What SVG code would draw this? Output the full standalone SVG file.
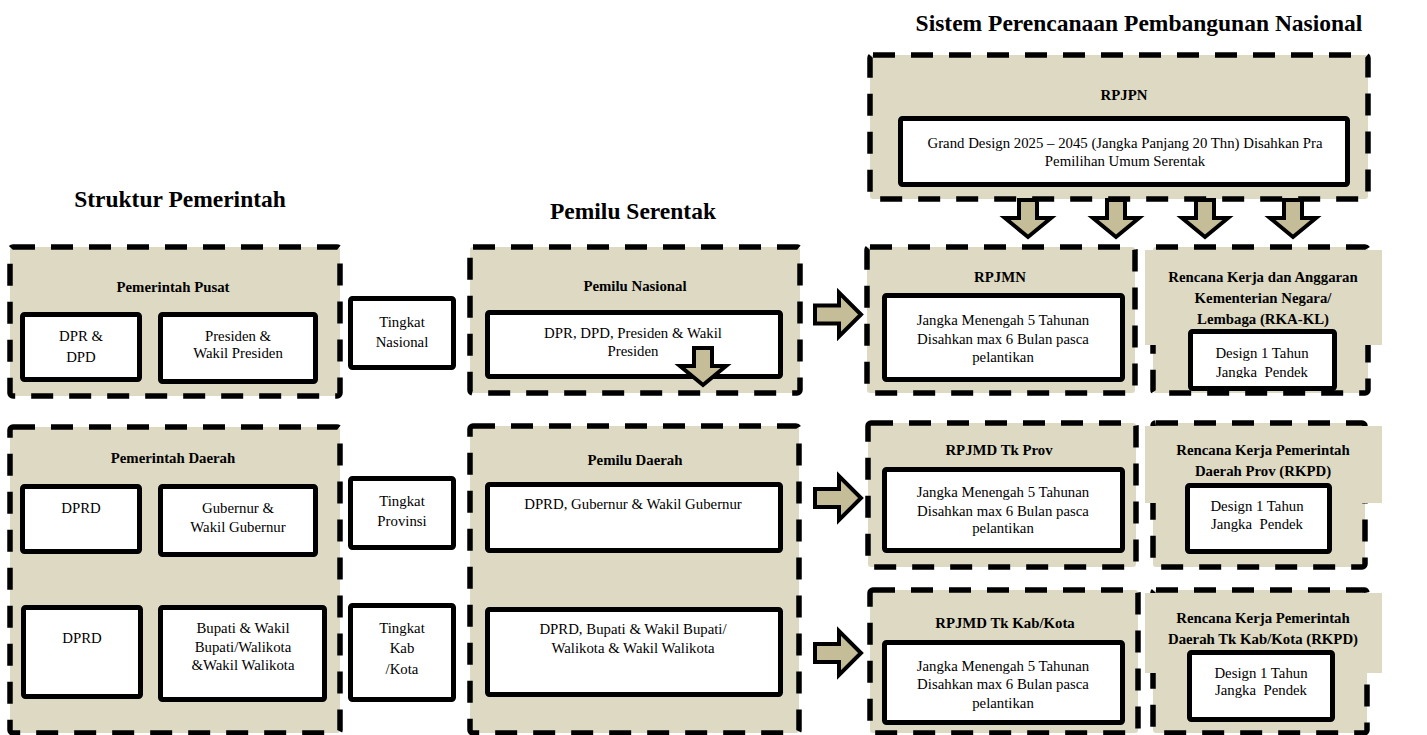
<svg xmlns="http://www.w3.org/2000/svg" width="1427" height="735" viewBox="0 0 1427 735">
<style>
.dash{fill:#DDD9C3;stroke:#000;stroke-width:5.5;stroke-dasharray:22 16}
.ov{fill:#DDD9C3;stroke:none}
.box{fill:#fff;stroke:#000;stroke-width:5}
.t{font-family:"Liberation Serif","Times New Roman",serif;font-size:14.8px;text-anchor:middle;fill:#000}
.b{font-weight:bold}
.title{font-family:"Liberation Serif","Times New Roman",serif;font-size:23.5px;font-weight:bold;text-anchor:middle;fill:#000}
.arr{fill:#C4BD97;stroke:#000;stroke-width:4;stroke-linejoin:miter}
.pre{white-space:pre}
</style>
<defs>
<path id="ra" d="M0,-9 H24 V-22 L46,0 L24,22 V9 H0 Z"/>
<path id="da" d="M-9,0 V18 H-23 L0,37 L23,18 H9 V0 Z"/>
<clipPath id="clipRKA"><rect x="1140" y="320" width="240" height="58"/></clipPath>
</defs>

<text class="title" x="1139" y="31">Sistem Perencanaan Pembangunan Nasional</text>
<text class="title" x="180" y="207">Struktur Pemerintah</text>
<text class="title" x="633" y="219">Pemilu Serentak</text>

<g id="pemerintah-pusat">
<rect class="dash" x="10" y="247" width="330" height="149" rx="3"/>
<text class="t b" x="173" y="292">Pemerintah Pusat</text>
<rect class="box" x="22.5" y="314.5" width="117" height="65" rx="2"/>
<text class="t" x="81" y="341">DPR &amp;</text>
<text class="t" x="81" y="362">DPD</text>
<rect class="box" x="160.5" y="314.5" width="155" height="67" rx="2"/>
<text class="t" x="238" y="341">Presiden &amp;</text>
<text class="t" x="238" y="358">Wakil Presiden</text>
</g>

<g id="tingkat-nasional">
<rect class="box" x="350.5" y="298.5" width="103" height="69" rx="2"/>
<text class="t" x="402" y="327">Tingkat</text>
<text class="t" x="402" y="347">Nasional</text>
</g>

<g id="pemilu-nasional">
<rect class="dash" x="470" y="247" width="330" height="146" rx="3"/>
<text class="t b" x="635" y="291">Pemilu Nasional</text>
<rect class="box" x="487.5" y="312.5" width="293" height="64" rx="2"/>
<text class="t" x="633" y="338">DPR, DPD, Presiden &amp; Wakil</text>
<text class="t" x="633" y="356">Presiden</text>
</g>

<g id="rpjpn">
<rect class="dash" x="870" y="55" width="498" height="144" rx="3"/>
<text class="t b" x="1124" y="100">RPJPN</text>
<rect class="box" x="900.5" y="118.5" width="447" height="66" rx="2"/>
<text class="t" x="1125" y="148">Grand Design 2025 – 2045 (Jangka Panjang 20 Thn) Disahkan Pra</text>
<text class="t" x="1125" y="166">Pemilihan Umum Serentak</text>
</g>

<g id="rpjmn">
<rect class="dash" x="867" y="247" width="268" height="146" rx="3"/>
<text class="t b" x="1000" y="282">RPJMN</text>
<rect class="box" x="884.5" y="295.5" width="238" height="84" rx="2"/>
<text class="t" x="1003" y="325">Jangka Menengah 5 Tahunan</text>
<text class="t" x="1003" y="344">Disahkan max 6 Bulan pasca</text>
<text class="t" x="1003" y="362">pelantikan</text>
</g>

<g id="rka-kl">
<rect class="dash" x="1153" y="247" width="215" height="146" rx="3"/>
<rect class="ov" x="1145" y="250" width="237" height="95"/>
<text class="t b" x="1263" y="282">Rencana Kerja dan Anggaran</text>
<text class="t b" x="1263" y="303">Kementerian Negara/</text>
<text class="t b" x="1263" y="324">Lembaga (RKA-KL)</text>
<rect class="box" x="1190.5" y="331.5" width="144" height="57" rx="2"/>
<g clip-path="url(#clipRKA)">
<text class="t" x="1262" y="358">Design 1 Tahun</text>
<text class="t pre" x="1262" y="377" xml:space="preserve">Jangka  Pendek</text>
</g>
</g>

<g id="pemerintah-daerah">
<rect class="dash" x="10" y="427" width="330" height="306" rx="3"/>
<text class="t b" x="173" y="463">Pemerintah Daerah</text>
<rect class="box" x="22.5" y="486.5" width="117" height="65" rx="2"/>
<text class="t" x="81" y="513">DPRD</text>
<rect class="box" x="160.5" y="486.5" width="155" height="68" rx="2"/>
<text class="t" x="238" y="513">Gubernur &amp;</text>
<text class="t" x="238" y="532">Wakil Gubernur</text>
<rect class="box" x="23.5" y="607.5" width="117" height="89" rx="2"/>
<text class="t" x="82" y="643">DPRD</text>
<rect class="box" x="160.5" y="607.5" width="164" height="92" rx="2"/>
<text class="t" x="243" y="633">Bupati &amp; Wakil</text>
<text class="t" x="243" y="652">Bupati/Walikota</text>
<text class="t" x="243" y="670">&amp;Wakil Walikota</text>
</g>

<g id="tingkat-provinsi">
<rect class="box" x="350.5" y="478.5" width="103" height="69" rx="2"/>
<text class="t" x="402" y="506">Tingkat</text>
<text class="t" x="402" y="526">Provinsi</text>
</g>

<g id="tingkat-kab-kota">
<rect class="box" x="350.5" y="605.5" width="103" height="94" rx="2"/>
<text class="t" x="402" y="633">Tingkat</text>
<text class="t" x="402" y="653">Kab</text>
<text class="t" x="402" y="674">/Kota</text>
</g>

<g id="pemilu-daerah">
<rect class="dash" x="470" y="426" width="329" height="307" rx="3"/>
<text class="t b" x="635" y="465">Pemilu Daerah</text>
<rect class="box" x="487.5" y="484.5" width="293" height="66" rx="2"/>
<text class="t" x="633" y="509">DPRD, Gubernur &amp; Wakil Gubernur</text>
<rect class="box" x="487.5" y="609.5" width="293" height="85" rx="2"/>
<text class="t" x="633" y="634">DPRD, Bupati &amp; Wakil Bupati/</text>
<text class="t" x="633" y="653">Walikota &amp; Wakil Walikota</text>
</g>

<g id="rpjmd-prov">
<rect class="dash" x="868" y="423" width="268" height="144" rx="3"/>
<text class="t b" x="999" y="455">RPJMD Tk Prov</text>
<rect class="box" x="884.5" y="469.5" width="238" height="81" rx="2"/>
<text class="t" x="1003" y="497">Jangka Menengah 5 Tahunan</text>
<text class="t" x="1003" y="516">Disahkan max 6 Bulan pasca</text>
<text class="t" x="1003" y="533">pelantikan</text>
</g>

<g id="rkpd-prov">
<rect class="dash" x="1153" y="423" width="212" height="144" rx="3"/>
<rect class="ov" x="1145" y="426" width="237" height="77"/>
<text class="t b" x="1263" y="455">Rencana Kerja Pemerintah</text>
<text class="t b" x="1263" y="476">Daerah Prov (RKPD)</text>
<rect class="box" x="1187.5" y="485.5" width="142" height="66" rx="2"/>
<text class="t" x="1257" y="511">Design 1 Tahun</text>
<text class="t pre" x="1257" y="529" xml:space="preserve">Jangka  Pendek</text>
</g>

<g id="rpjmd-kab-kota">
<rect class="dash" x="870" y="590" width="268" height="143" rx="3"/>
<text class="t b" x="1005" y="628">RPJMD Tk Kab/Kota</text>
<rect class="box" x="884.5" y="642.5" width="238" height="80" rx="2"/>
<text class="t" x="1003" y="671">Jangka Menengah 5 Tahunan</text>
<text class="t" x="1003" y="689">Disahkan max 6 Bulan pasca</text>
<text class="t" x="1003" y="708">pelantikan</text>
</g>

<g id="rkpd-kab-kota">
<rect class="dash" x="1153" y="590" width="214" height="143" rx="3"/>
<rect class="ov" x="1145" y="593" width="237" height="80"/>
<text class="t b" x="1263" y="623">Rencana Kerja Pemerintah</text>
<text class="t b" x="1263" y="644">Daerah Tk Kab/Kota (RKPD)</text>
<rect class="box" x="1189.5" y="652.5" width="143" height="67" rx="2"/>
<text class="t" x="1261" y="678">Design 1 Tahun</text>
<text class="t pre" x="1261" y="695" xml:space="preserve">Jangka  Pendek</text>
</g>

<g id="connectors">
<use href="#ra" class="arr" x="815" y="314.5"/>
<use href="#ra" class="arr" x="815" y="498"/>
<use href="#ra" class="arr" x="815" y="653"/>
<use href="#da" class="arr" x="1028" y="200"/>
<use href="#da" class="arr" x="1116" y="200"/>
<use href="#da" class="arr" x="1205" y="200"/>
<use href="#da" class="arr" x="1293" y="200"/>
<use href="#da" class="arr" x="703" y="348"/>
</g>
</svg>
